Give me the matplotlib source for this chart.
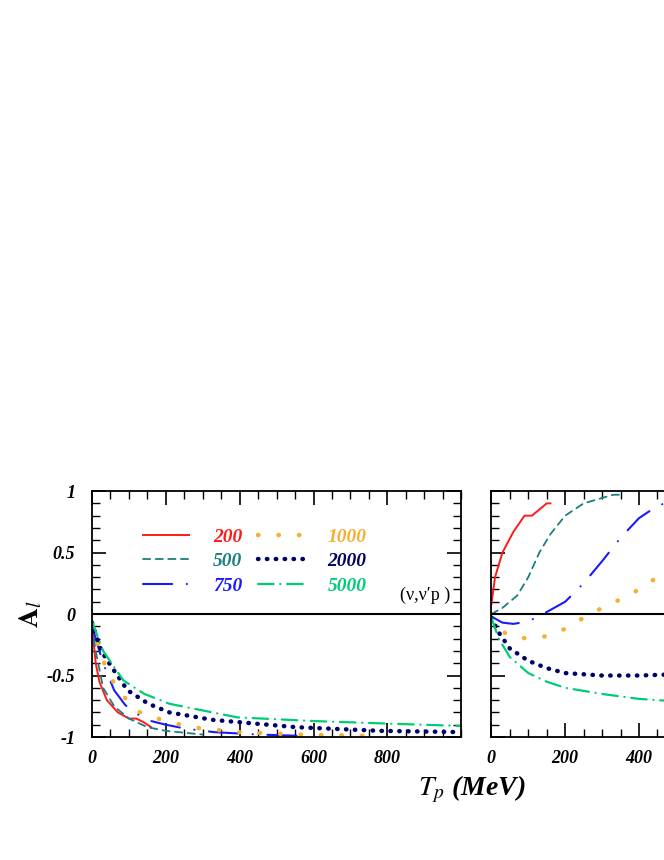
import numpy as np
import matplotlib.pyplot as plt
from matplotlib.ticker import MultipleLocator

labels = ["200", "500", "750", "1000", "2000", "5000"]
colors = ["#ff1a1a", "#1a7f7f", "#1a1aff", "#f5b030", "#000066", "#00cc77"]
styles = ["-", (0, (4, 3)), (0, (14, 7, 0.1, 7)), (0, (0.1, 4.5)), (0, (0.1, 1.9)), (0, (7, 3, 0.1, 3))]
widths = [1.4, 1.3, 1.5, 3.2, 3.2, 1.6]

# left panel (nu, nu' p)
nu_x = [
    [0, 10, 20, 40, 70, 100, 120, 140, 160],
    [0, 10, 30, 60, 100, 150, 200, 300],
    [0, 30, 60, 90, 120, 160, 200, 250, 330, 450, 560],
    [0, 30, 53, 85, 130, 188, 267, 393, 560, 750],
    [0, 25, 53, 96, 153, 210, 325, 553, 782, 1000],
    [0, 30, 85, 142, 210, 393, 600, 793, 1000],
]
nu_y = [
    [-0.1, -0.4, -0.55, -0.7, -0.8, -0.85, -0.85, -0.88, -0.92],
    [-0.1, -0.3, -0.6, -0.75, -0.85, -0.92, -0.95, -0.98],
    [-0.1, -0.4, -0.62, -0.74, -0.81, -0.87, -0.9, -0.93, -0.96, -0.98, -0.99],
    [-0.08, -0.38, -0.53, -0.67, -0.8, -0.86, -0.92, -0.96, -0.98, -0.99],
    [-0.07, -0.3, -0.43, -0.62, -0.73, -0.8, -0.86, -0.92, -0.95, -0.96],
    [-0.06, -0.3, -0.54, -0.65, -0.73, -0.84, -0.87, -0.89, -0.91],
]
# right panel (antinu)
anu_x = [
    [0, 10, 30, 60, 90, 110, 130, 150, 160],
    [0, 30, 70, 100, 130, 160, 200, 250, 330, 350],
    [0, 30, 60, 100, 140, 200, 250, 300, 350, 400, 450, 500, 560],
    [0, 20, 50, 100, 150, 200, 250, 300, 350, 400, 450, 500],
    [0, 20, 50, 100, 150, 200, 300, 400, 500],
    [0, 20, 50, 100, 150, 200, 300, 400, 500],
]
anu_y = [
    [0.08, 0.3, 0.5, 0.67, 0.8, 0.8, 0.85, 0.9, 0.9],
    [0.0, 0.05, 0.15, 0.3, 0.5, 0.65, 0.8, 0.9, 0.97, 0.97],
    [-0.02, -0.07, -0.08, -0.06, 0.0, 0.1, 0.25, 0.43, 0.62, 0.78, 0.88, 0.93, 0.96],
    [-0.03, -0.12, -0.18, -0.2, -0.18, -0.12, -0.03, 0.05, 0.12, 0.2, 0.3, 0.38],
    [-0.03, -0.15, -0.28, -0.38, -0.44, -0.48, -0.5, -0.5, -0.49],
    [-0.03, -0.2, -0.35, -0.48, -0.55, -0.6, -0.65, -0.69, -0.71],
]

plt.rcParams['font.family'] = ['Liberation Serif', 'DejaVu Serif']
plt.rcParams['mathtext.fontset'] = 'stix'
fnt = dict(fontweight='bold', fontstyle='italic')

fig = plt.figure(figsize=(6.64, 8.6), dpi=100)
ax1 = fig.add_axes([0.1386, 0.143, 0.556, 0.286])
ax2 = fig.add_axes([0.740, 0.143, 0.556, 0.286])

for ax, xs, ys in [(ax1, nu_x, nu_y), (ax2, anu_x, anu_y)]:
    for x, y, c, s, w, l in zip(xs, ys, colors, styles, widths, labels):
        ax.plot(x, y, color=c, linestyle=s, lw=w, dash_capstyle='round', label=l)
    ax.axhline(0, color='black', lw=1.5)
    ax.set_xlim(0, 1000)
    ax.set_ylim(-1, 1)
    ax.xaxis.set_major_locator(MultipleLocator(200))
    ax.xaxis.set_minor_locator(MultipleLocator(50))
    ax.yaxis.set_major_locator(MultipleLocator(0.5))
    ax.yaxis.set_minor_locator(MultipleLocator(0.1))
    ax.tick_params(which='both', direction='in', top=True, right=True)
    ax.tick_params(which='major', length=10, width=1.2, pad=9)
    ax.tick_params(which='minor', length=6, width=1)
    for sp in ax.spines.values():
        sp.set_linewidth(1.3)

ax1.set_xticks([0, 200, 400, 600, 800])
ax1.set_xticklabels(["0", "200", "400", "600", "800"], **fnt, fontsize=13)
ax2.set_xticks([0, 200, 400, 600, 800])
ax2.set_xticklabels(["0", "200", "400", "", ""], **fnt, fontsize=13)
ax1.set_yticks([-1, -0.5, 0, 0.5, 1])
ax1.set_yticklabels(["-1", "-0.5", "0", "0.5", "1"], **fnt, fontsize=13)
ax1.tick_params(axis='y', pad=12)
ax2.set_yticklabels([])

leg = ax1.legend(ncol=2, frameon=False, loc='upper left', bbox_to_anchor=(0.09, 0.92),
                 handlelength=2.4, handletextpad=1.2, columnspacing=0.8, labelspacing=0.35,
                 prop=dict(family='Liberation Serif', weight='bold', style='italic', size=14))
for t, c in zip(leg.get_texts(), colors):
    t.set_color(c)

ax1.text(0.97, 0.575, "(ν,ν′p )", transform=ax1.transAxes, ha='right', va='center', fontsize=13)
ax1.set_ylabel("$\\mathbf{A}_{\\mathbf{\\mathit{l}}}$", fontsize=20, labelpad=2)
fig.text(0.71, 0.082, "$\\boldsymbol{T_p}$ (MeV)", ha='center', va='center', fontsize=20, **fnt)

fig.savefig("out.png", dpi=100)
